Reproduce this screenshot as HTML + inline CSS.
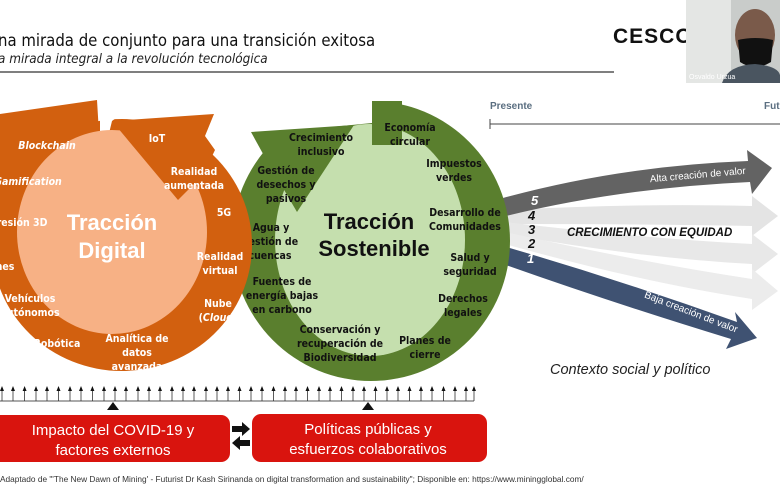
<!DOCTYPE html>
<html><head><meta charset="utf-8"><style>
html,body{margin:0;padding:0;background:#fff;}
svg{display:block;font-family:"Liberation Sans",sans-serif;}
.o{fill:#fff;font-weight:bold;font-size:10.5px;text-anchor:middle;font-family:"DejaVu Sans Condensed","Liberation Sans",sans-serif;}
.g{fill:#111;font-weight:bold;font-size:10.5px;text-anchor:middle;font-family:"DejaVu Sans Condensed","Liberation Sans",sans-serif;}
</style></head><body>
<svg width="780" height="500" viewBox="0 0 780 500">
<!-- header -->
<text x="-2" y="46" font-size="16.6" fill="#111" font-family="DejaVu Sans Condensed, Liberation Sans, sans-serif">na mirada de conjunto para una transición exitosa</text>
<text x="-2" y="63" font-size="13.4" font-style="italic" fill="#222" font-family="DejaVu Sans Condensed, Liberation Sans, sans-serif">a mirada integral a la revolución tecnológica</text>
<line x1="0" y1="72" x2="614" y2="72" stroke="#333" stroke-width="1.2"/>
<text x="613" y="43" font-size="21" font-weight="bold" fill="#111" letter-spacing="1">CESCO</text>
<!-- webcam -->
<rect x="686" y="0" width="94" height="83" fill="#c9ccca"/>
<rect x="686" y="0" width="45" height="83" fill="#e4e6e4"/>
<ellipse cx="755" cy="35" rx="20" ry="26" fill="#7a5a4a"/>
<path d="M738 40 Q755 36 773 40 L771 62 Q755 72 740 62 Z" fill="#111"/>
<path d="M722 83 Q728 65 755 64 Q778 66 780 75 L780 83 Z" fill="#4a5560"/>
<text x="689" y="79" font-size="7" fill="#fff">Osvaldo Urzua</text>

<!-- timeline -->
<text x="490" y="109" font-size="10" font-weight="bold" fill="#5a6e80">Presente</text>
<text x="764" y="109" font-size="10" font-weight="bold" fill="#5a6e80">Fut</text>
<line x1="490" y1="124" x2="780" y2="124" stroke="#444" stroke-width="1"/>
<line x1="490" y1="119" x2="490" y2="129" stroke="#444" stroke-width="1"/>

<!-- right arrows -->
<path d="M505 210 Q640 203 752 206 L752 196 L778 216 L752 236 L752 226 Q640 224 505 224 Z" fill="#e4e4e4"/>
<path d="M505 222 Q640 238 752 244 L752 234 L778 254 L752 274 L752 264 Q640 258 505 234 Z" fill="#e8e8e8"/>
<path d="M505 232 Q640 262 752 279 L752 269 L778 291 L752 310 L752 299 Q640 282 505 244 Z" fill="#ececec"/>
<path d="M503 198 Q620 166 748 161 L747 150 L772 168 L752 194 L750 182 Q620 188 506 216 Z" fill="#636363"/>
<path d="M503 246 Q620 280 737 322 L735 312 L757 338 L726 349 L731 339 Q610 302 503 264 Z" fill="#3f5272"/>
<text x="531" y="205" font-size="13" font-weight="bold" font-style="italic" fill="#fff">5</text>
<text x="528" y="220" font-size="13" font-weight="bold" font-style="italic" fill="#111">4</text>
<text x="528" y="234" font-size="13" font-weight="bold" font-style="italic" fill="#111">3</text>
<text x="528" y="248" font-size="13" font-weight="bold" font-style="italic" fill="#111">2</text>
<text x="527" y="263" font-size="13" font-weight="bold" font-style="italic" fill="#fff">1</text>
<text x="567" y="236" font-size="11.5" font-weight="bold" font-style="italic" fill="#111">CRECIMIENTO CON EQUIDAD</text>
<text x="698" y="178" font-size="10" fill="#fff" text-anchor="middle" transform="rotate(-5 698 178)">Alta creación de valor</text>
<text x="690" y="315" font-size="10" fill="#fff" text-anchor="middle" transform="rotate(21 690 315)">Baja creación de valor</text>
<text x="550" y="374" font-size="14.5" font-style="italic" fill="#222">Contexto social y político</text>

<!-- green ring -->
<ellipse cx="371" cy="241" rx="139" ry="140" fill="#5a7f2e"/>
<polygon points="230,95 372,95 372,123 250,135 230,150" fill="#fff"/>
<ellipse cx="370" cy="240" rx="95" ry="116" fill="#c5dfae"/>
<polygon points="372,123 372,98 330,98 330,123" fill="#fff"/>
<rect x="372" y="101" width="30" height="44" fill="#5a7f2e"/>
<polygon points="251,132 354,125 297,212 262,152" fill="#5a7f2e"/>
<text class="g" x="321" y="141">Crecimiento</text>
<text class="g" x="321" y="155">inclusivo</text>
<text class="g" x="286" y="174">Gestión de</text>
<text class="g" x="286" y="188">desechos y</text>
<text class="g" x="286" y="202">pasivos</text>
<text class="g" x="271" y="231">Agua y</text>
<text class="g" x="270" y="245">gestión de</text>
<text class="g" x="270" y="259">cuencas</text>
<text class="g" x="282" y="285">Fuentes de</text>
<text class="g" x="282" y="299">energía  bajas</text>
<text class="g" x="282" y="313">en carbono</text>
<text class="g" x="340" y="333">Conservación  y</text>
<text class="g" x="340" y="347">recuperación de</text>
<text class="g" x="340" y="361">Biodiversidad</text>
<text class="g" x="425" y="344">Planes de</text>
<text class="g" x="425" y="358">cierre</text>
<text class="g" x="463" y="302">Derechos</text>
<text class="g" x="463" y="316">legales</text>
<text class="g" x="470" y="261">Salud y</text>
<text class="g" x="470" y="275">seguridad</text>
<text class="g" x="465" y="216">Desarrollo  de</text>
<text class="g" x="465" y="230">Comunidades</text>
<text class="g" x="454" y="167">Impuestos</text>
<text class="g" x="454" y="181">verdes</text>
<text class="g" x="410" y="131">Economía</text>
<text class="g" x="410" y="145">circular</text>
<text x="369" y="229" font-size="22" font-weight="bold" fill="#111" text-anchor="middle">Tracción</text>
<text x="374" y="256" font-size="22" font-weight="bold" fill="#111" text-anchor="middle">Sostenible</text>

<!-- orange ring (on top of green) -->
<ellipse cx="122" cy="245" rx="130" ry="126" fill="#d2600f"/>
<polygon points="0,114 97,100 100,150 60,160 20,185 0,215" fill="#d2600f"/>
<polygon points="100,100 140,100 112,121 105,150 100,150" fill="#fff"/>
<ellipse cx="112" cy="232" rx="95" ry="102" fill="#f7b185"/>
<polygon points="112,121 214,114 205,136 215,150 203,175 178,200" fill="#d2600f"/>
<text class="o" x="47" y="149" font-style="italic">Blockchain</text>
<text class="o" x="28" y="185" font-style="italic">Gamification</text>
<text class="o" x="22" y="226">resión 3D</text>
<text class="o" x="5" y="270">nes</text>
<text class="o" x="30" y="302">Vehículos</text>
<text class="o" x="30" y="316">autónomos</text>
<text class="o" x="57" y="347">Robótica</text>
<text class="o" x="137" y="342">Analítica de</text>
<text class="o" x="137" y="356">datos</text>
<text class="o" x="137" y="370">avanzada</text>
<text class="o" x="218" y="307">Nube</text>
<text class="o" x="218" y="321">(<tspan font-style="italic">Cloud</tspan>)</text>
<text class="o" x="220" y="260">Realidad</text>
<text class="o" x="220" y="274">virtual</text>
<text class="o" x="224" y="216">5G</text>
<text class="o" x="194" y="175">Realidad</text>
<text class="o" x="194" y="189">aumentada</text>
<text class="o" x="157" y="142">IoT</text>
<text x="112" y="230" font-size="22" font-weight="bold" fill="#fff" text-anchor="middle">Tracción</text>
<text x="112" y="258" font-size="22" font-weight="bold" fill="#fff" text-anchor="middle">Digital</text>

<!-- arrow row -->
<line x1="0" y1="401" x2="474" y2="401" stroke="#555" stroke-width="1"/>
<g stroke="#333" stroke-width="0.8">
<path d="M2 401V390M13 401V390M24.6 401V390M36 401V390M47 401V390M58.5 401V390M70 401V390M81 401V390M92.4 401V390M104 401V390M115 401V390M126 401V390M138 401V390M149 401V390M160 401V390M172 401V390M183 401V390M194 401V390M206 401V390M217 401V390M228 401V390M239.5 401V390M251 401V390M262 401V390M273.5 401V390M285 401V390M296 401V390M307.5 401V390M319 401V390M330 401V390M341.5 401V390M353 401V390M364 401V390M375.5 401V390M387 401V390M398 401V390M409.5 401V390M421 401V390M432 401V390M443.5 401V390M455 401V390M466 401V390M474 401V390"/>
</g>
<g fill="#111">
<path d="M0 391h4l-2-5zM11 391h4l-2-5zM22.6 391h4l-2-5zM34 391h4l-2-5zM45 391h4l-2-5zM56.5 391h4l-2-5zM68 391h4l-2-5zM79 391h4l-2-5zM90.4 391h4l-2-5zM102 391h4l-2-5zM113 391h4l-2-5zM124 391h4l-2-5zM136 391h4l-2-5zM147 391h4l-2-5zM158 391h4l-2-5zM170 391h4l-2-5zM181 391h4l-2-5zM192 391h4l-2-5zM204 391h4l-2-5zM215 391h4l-2-5zM226 391h4l-2-5zM237.5 391h4l-2-5zM249 391h4l-2-5zM260 391h4l-2-5zM271.5 391h4l-2-5zM283 391h4l-2-5zM294 391h4l-2-5zM305.5 391h4l-2-5zM317 391h4l-2-5zM328 391h4l-2-5zM339.5 391h4l-2-5zM351 391h4l-2-5zM362 391h4l-2-5zM373.5 391h4l-2-5zM385 391h4l-2-5zM396 391h4l-2-5zM407.5 391h4l-2-5zM419 391h4l-2-5zM430 391h4l-2-5zM441.5 391h4l-2-5zM453 391h4l-2-5zM464 391h4l-2-5zM472 391h4l-2-5z"/>
</g>
<polygon points="107,410 119,410 113,402" fill="#111"/>
<polygon points="362,410 374,410 368,402" fill="#111"/>
<rect x="-10" y="415" width="240" height="47" rx="9" fill="#d9140e"/>
<rect x="252" y="414" width="235" height="48" rx="9" fill="#d9140e"/>
<text x="113" y="435" font-size="15" fill="#fff" text-anchor="middle">Impacto del  COVID-19 y</text>
<text x="113" y="455" font-size="15" fill="#fff" text-anchor="middle">factores externos</text>
<text x="368" y="434" font-size="15" fill="#fff" text-anchor="middle">Políticas públicas y</text>
<text x="368" y="454" font-size="15" fill="#fff" text-anchor="middle">esfuerzos colaborativos</text>
<polygon points="232,426 242,426 242,422 250,429 242,436 242,432 232,432" fill="#111"/>
<polygon points="250,440 240,440 240,436 232,443 240,450 240,446 250,446" fill="#111"/>
<text x="0" y="482" font-size="8.3" fill="#333">Adaptado de  "'The New Dawn of Mining' - Futurist Dr Kash Sirinanda on digital transformation and sustainability"; Disponible en: https://www.miningglobal.com/</text>
</svg>
</body></html>
